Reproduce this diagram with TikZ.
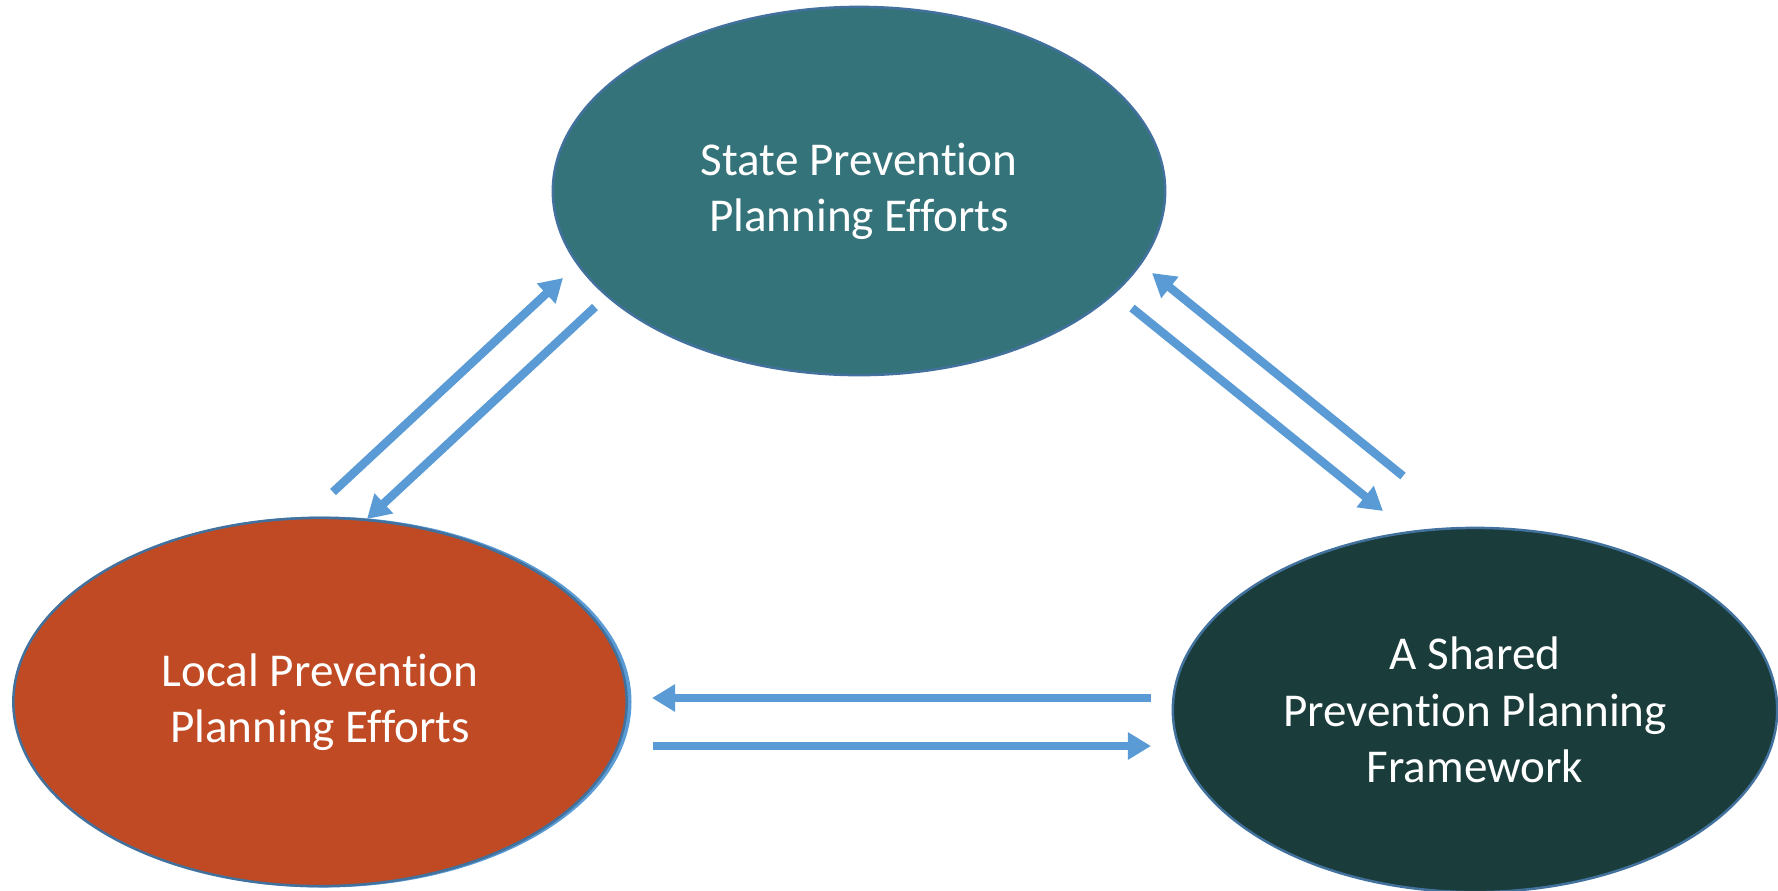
\documentclass[tikz,border=0pt]{standalone}
\usepackage{fontspec}
\setmainfont{Carlito}[RawFeature = {-liga;-clig;-calt;-dlig}]
\usetikzlibrary{shapes.geometric,arrows.meta}
\definecolor{stateteal}{HTML}{35737A}
\definecolor{localrust}{HTML}{C04A24}
\definecolor{sharedgreen}{HTML}{1A3C3B}
\definecolor{rimblue}{HTML}{41719C}
\definecolor{flowblue}{HTML}{5B9BD5}

\begin{document}
\begin{tikzpicture}[x = 0.01cm, y = -0.01cm,
        blob/.style = {ellipse, draw = rimblue, line width = 0.25mm, inner sep = 0,
            text = white, align = center, font = \fontsize{13.4}{16}\selectfont},
        flow/.style = {draw = flowblue, line width = 0.85mm,
            -{Triangle[length = 2.3mm, width = 2.6mm]}}]
        \useasboundingbox (0, 0) rectangle (1778, 890);

        % the three planning levels
        \draw [flowblue, line width = 0.5mm] (323, 702) ellipse [x radius = 306, y radius = 183];
        \node [blob, fill = stateteal, minimum width = 6.12cm, minimum height = 3.68cm] (state) at (859, 191) {State Prevention\\Planning Efforts};
        \node [blob, fill = localrust, minimum width = 6.13cm, minimum height = 3.68cm] (local) at (320, 702) {Local Prevention\\Planning Efforts};
        \node [blob, fill = sharedgreen, minimum width = 6.04cm, minimum height = 3.64cm] (shared) at (1475, 710) {A Shared\\Prevention Planning\\Framework};

        % ends of the paired arrows
        \coordinate (ls-out) at (333, 492);
        \coordinate (ls-in) at (563, 278);
        \coordinate (sl-out) at (595, 307);
        \coordinate (sl-in) at (367, 519);
        \coordinate (hs-out) at (1403, 476);
        \coordinate (hs-in) at (1152, 273);
        \coordinate (sh-out) at (1132, 308);
        \coordinate (sh-in) at (1383, 511);
        \coordinate (hl-out) at (1151, 698);
        \coordinate (hl-in) at (652, 698);
        \coordinate (lh-out) at (653, 746);
        \coordinate (lh-in) at (1151, 746);

        \draw [flow] (ls-out) -- (ls-in);
        \draw [flow] (sl-out) -- (sl-in);
        \draw [flow] (hs-out) -- (hs-in);
        \draw [flow] (sh-out) -- (sh-in);
        \draw [flow] (hl-out) -- (hl-in);
        \draw [flow] (lh-out) -- (lh-in);
    \end{tikzpicture}
\end{document}
